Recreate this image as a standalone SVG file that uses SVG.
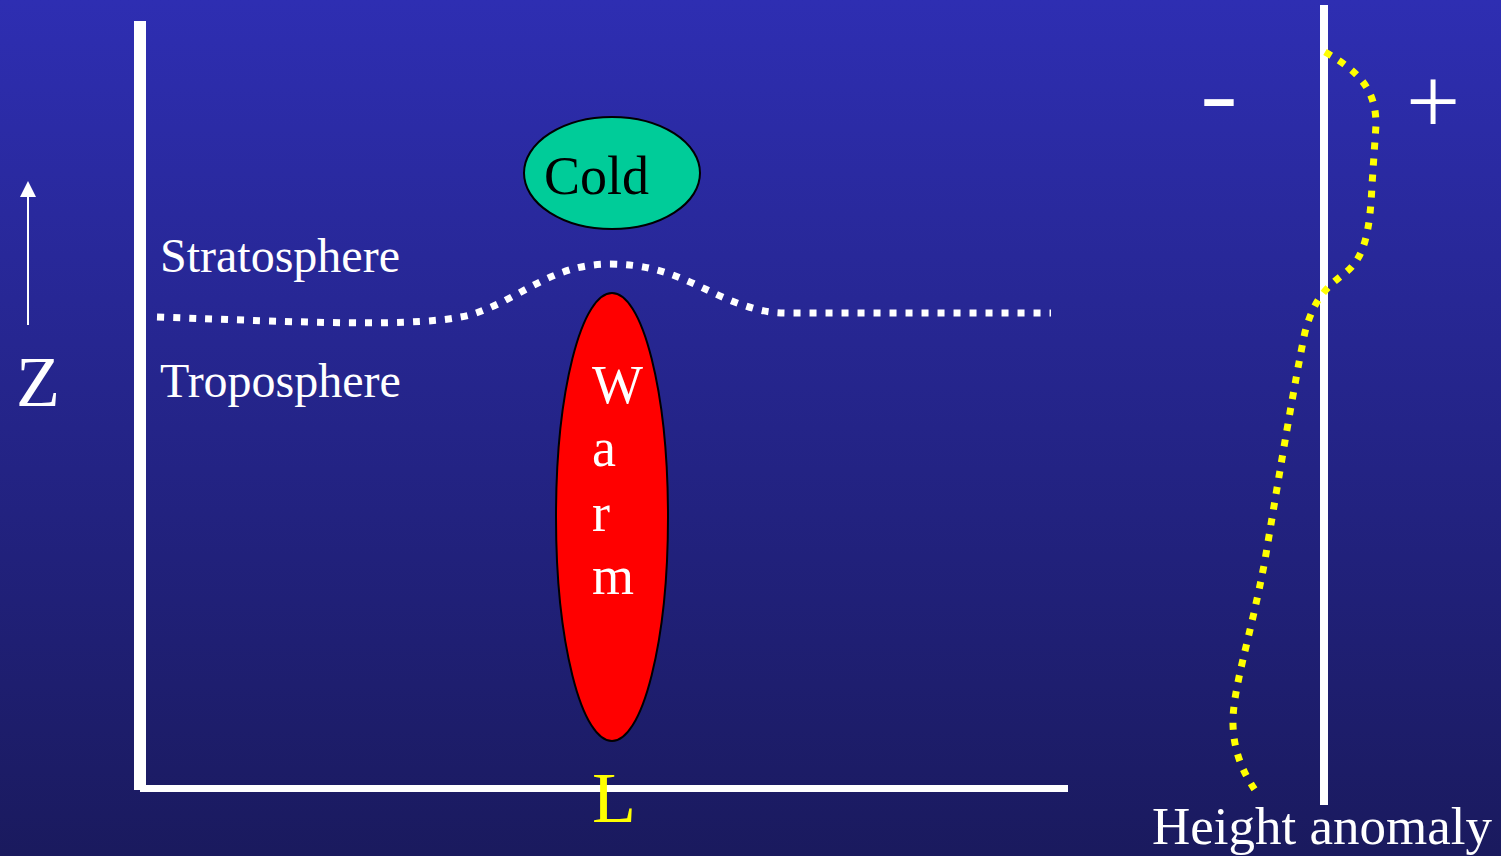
<svg xmlns="http://www.w3.org/2000/svg" width="1501" height="856" viewBox="0 0 1501 856">
  <defs>
    <linearGradient id="bg" x1="0" y1="0" x2="0" y2="1">
      <stop offset="0" stop-color="#2E2EB2"/>
      <stop offset="1" stop-color="#1A1A5E"/>
    </linearGradient>
    <marker id="arrowhead" markerWidth="16" markerHeight="15" refX="8" refY="1" orient="auto-start-reverse" markerUnits="userSpaceOnUse" viewBox="0 0 16 15">
      <path d="M0,15 L8,0 L16,15 Z" fill="#FFFFFF"/>
    </marker>
  </defs>
  <style>
    .lbl { font-family: "Liberation Serif", "Times New Roman", serif; fill: #FFFFFF; }
    .axis { fill: #FFFFFF; }
    .dotw { fill: none; stroke: #FFFFFF; stroke-width: 7; stroke-dasharray: 7 9; }
    .doty { fill: none; stroke: #FFFF00; stroke-width: 7; stroke-dasharray: 7 9; }
  </style>
  <rect x="0" y="0" width="1501" height="856" fill="url(#bg)"/>

  <g id="axes">
    <rect class="axis" x="134" y="21" width="12" height="769"/>
    <rect class="axis" x="140" y="785" width="928" height="7"/>
    <rect class="axis" x="1320" y="5" width="8" height="800"/>
  </g>

  <g id="z-axis">
    <line x1="28" y1="325" x2="28" y2="196" stroke="#FFFFFF" stroke-width="2"/>
    <path d="M20,197 L28,181 L36,197 Z" fill="#FFFFFF"/>
    <text class="lbl" x="16" y="406" font-size="72">Z</text>
  </g>

  <g id="connectors">
    <path id="tropopause" class="dotw" d="M157,317 C300,322 420,328 470,315 C520,300 550,264 610,264 C670,264 700,290 740,304 C760,311 770,313 790,313 L1051,313"/>
    <path id="height-anomaly-profile" class="doty" d="M1325,52 C1360,72 1376,90 1376,125 L1372,185 C1370,230 1365,258 1345,273 C1330,285 1315,295 1305,332 C1295,380 1280,470 1265,560 C1250,640 1232,690 1233,725 C1234,755 1245,775 1255,790"/>
  </g>

  <g id="stratosphere-label">
    <text class="lbl" x="160" y="272" font-size="48">Stratosphere</text>
  </g>
  <g id="troposphere-label">
    <text class="lbl" x="160" y="397" font-size="48">Troposphere</text>
  </g>

  <g id="cold">
    <ellipse cx="612" cy="173" rx="88" ry="56" fill="#00CC99" stroke="#000000" stroke-width="2"/>
    <text x="544" y="194" font-size="54" font-family="Liberation Serif, Times New Roman, serif" fill="#000000">Cold</text>
  </g>

  <g id="warm">
    <ellipse cx="612" cy="517" rx="56" ry="224" fill="#FF0000" stroke="#000000" stroke-width="2"/>
    <text class="lbl" font-size="54">
      <tspan x="592" y="403">W</tspan>
      <tspan x="592" y="466">a</tspan>
      <tspan x="592" y="531">r</tspan>
      <tspan x="592" y="594">m</tspan>
    </text>
  </g>

  <g id="low">
    <text x="592" y="822" font-size="72" font-family="Liberation Serif, Times New Roman, serif" fill="#FFFF00">L</text>
  </g>

  <g id="minus">
    <text class="lbl" font-family="Liberation Sans, Arial, sans-serif" style="font-family:'Liberation Sans', Arial, sans-serif" font-size="100" transform="translate(1199,126) scale(1.2,0.88)">-</text>
  </g>
  <g id="plus">
    <text class="lbl" x="1406" y="133" font-size="96">+</text>
  </g>

  <g id="height-anomaly-label">
    <text class="lbl" x="1152" y="844" font-size="53">Height anomaly</text>
  </g>
</svg>
